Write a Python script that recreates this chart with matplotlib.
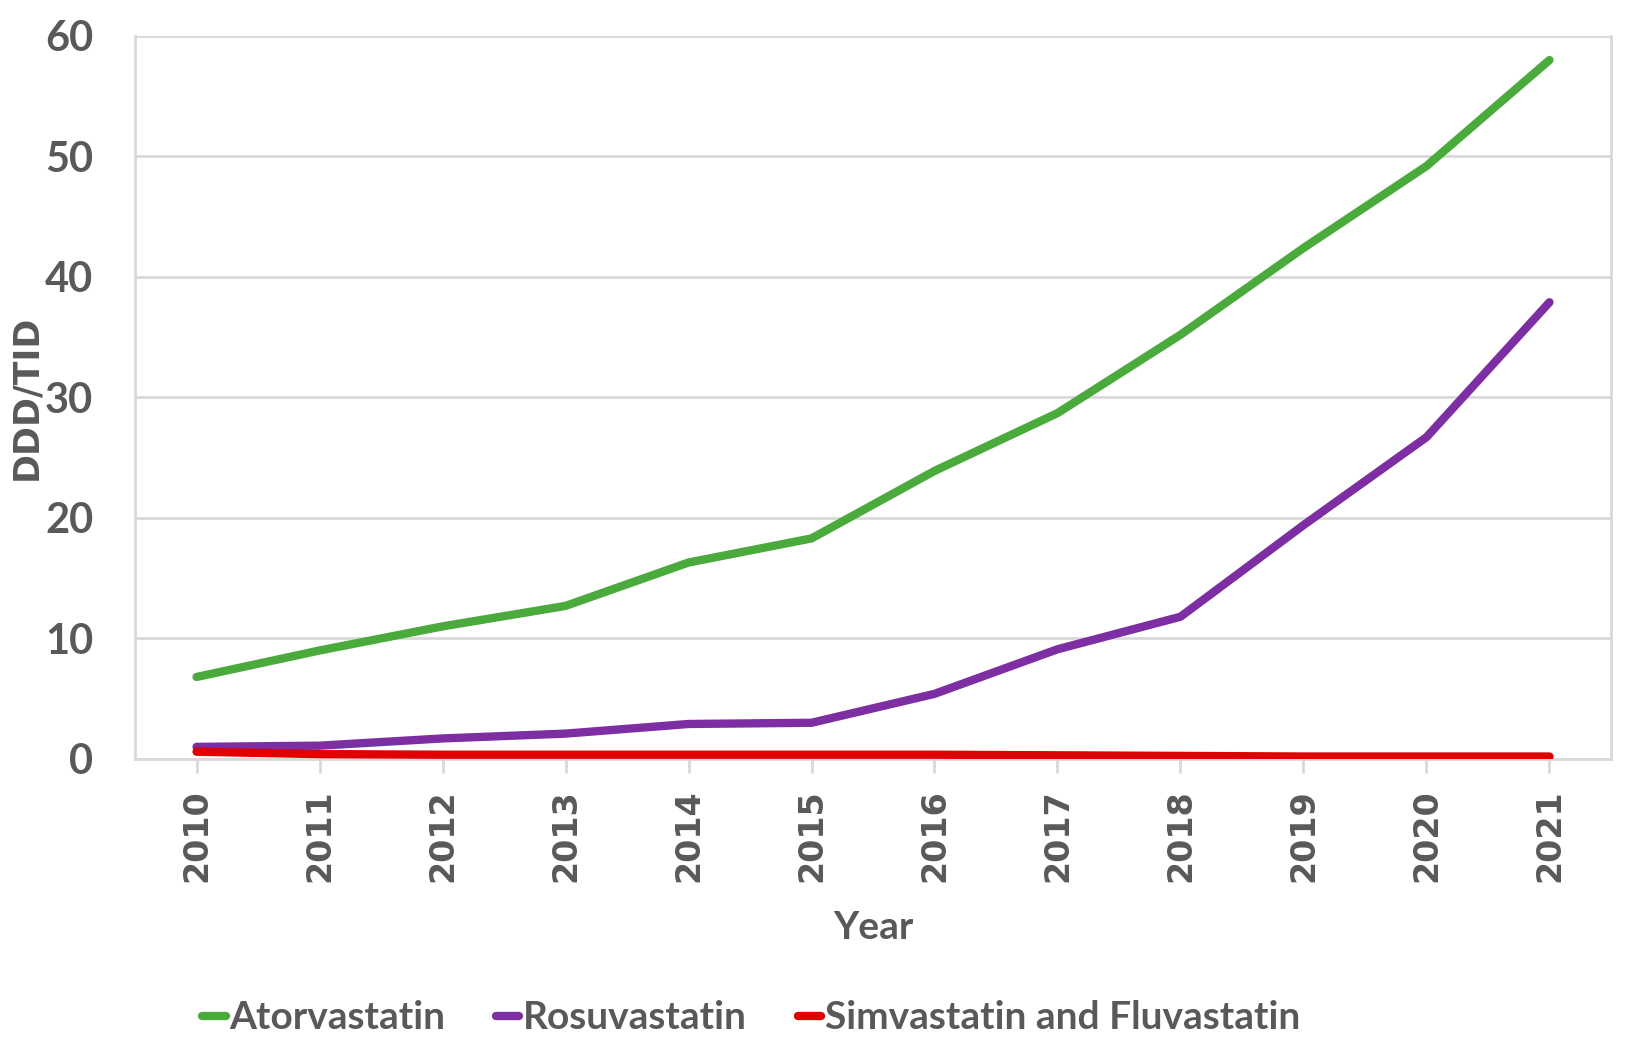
import matplotlib.pyplot as plt

years = ["2010", "2011", "2012", "2013", "2014", "2015",
         "2016", "2017", "2018", "2019", "2020", "2021"]
atorvastatin = [6.8, 9.0, 11.0, 12.7, 16.3, 18.3, 23.9, 28.7, 35.2, 42.4, 49.2, 58.0]
rosuvastatin = [1.0, 1.1, 1.7, 2.1, 2.9, 3.0, 5.4, 9.1, 11.8, 19.4, 26.7, 37.9]
simva_fluva = [0.6, 0.4, 0.35, 0.35, 0.35, 0.35, 0.35, 0.3, 0.25, 0.2, 0.2, 0.2]

grey = "#595959"
grid_c = "#d9d9d9"

fig = plt.figure(figsize=(16.33, 10.57), dpi=100)
ax = fig.add_axes([0.0827, 0.282, 0.9038, 0.684])

x = list(range(len(years)))
ax.plot(x, atorvastatin, color="#4aaa3c", lw=6, solid_capstyle="round", label="Atorvastatin", zorder=3)
ax.plot(x, rosuvastatin, color="#7d2ea3", lw=6, solid_capstyle="round", label="Rosuvastatin", zorder=3)
ax.plot(x, simva_fluva, color="#e00000", lw=6, solid_capstyle="round", label="Simvastatin and Fluvastatin", zorder=4)

ax.set_xlim(-0.5, len(years) - 0.5)
ax.set_ylim(0, 60)
ax.set_yticks(range(0, 61, 10))
ax.set_xticks(x)
ax.set_xticklabels(years, rotation=90, fontsize=24, fontweight="bold",
                   family="DejaVu Sans", color=grey)
for lab in ax.get_yticklabels():
    lab.set_fontsize(30)
    lab.set_fontweight("bold")
    lab.set_family("Lato")
    lab.set_color(grey)

ax.grid(axis="y", color=grid_c, lw=2)
ax.set_axisbelow(True)
for side in ["left", "bottom", "right"]:
    ax.spines[side].set_color(grid_c)
    ax.spines[side].set_linewidth(2)
ax.spines["top"].set_visible(False)
ax.tick_params(axis="y", length=0, pad=30)
ax.tick_params(axis="x", length=10, width=2, color=grid_c, pad=12)

ax.set_ylabel("DDD/TID", fontsize=25, fontweight="bold", color=grey)
ax.yaxis.set_label_coords(-0.062, 0.5)
ax.set_xlabel("Year", fontsize=28, fontweight="bold", family="Lato", color=grey, labelpad=20)

leg = fig.legend(loc="center", bbox_to_anchor=(0.46, 0.037), ncol=3, frameon=False,
                 handlelength=0.6, handletextpad=0.1, columnspacing=1.3,
                 prop={"family": "Lato", "weight": "bold", "size": 28})
for t in leg.get_texts():
    t.set_color(grey)

fig.savefig("out.png", dpi=100)
